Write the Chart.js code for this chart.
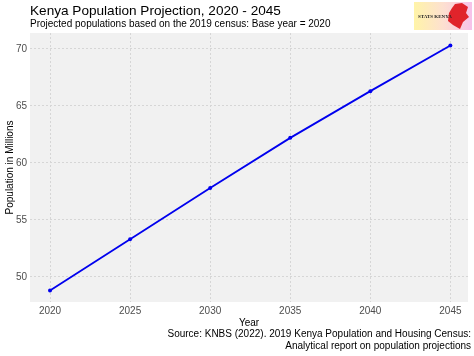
<!DOCTYPE html>
<html>
<head>
<meta charset="utf-8">
<script src="https://cdn.jsdelivr.net/npm/chart.js@4/dist/chart.umd.min.js"></script>
<style>
  html, body { margin: 0; padding: 0; background: #ffffff; }
  #wrap { position: relative; width: 474px; height: 356px; }
</style>
</head>
<body>
<div id="wrap"><canvas id="c" width="474" height="356"></canvas></div>
<script>
const years = [2020, 2025, 2030, 2035, 2040, 2045];
const population = [48.8, 53.3, 57.8, 62.2, 66.3, 70.3];
const xTicks = [2020, 2025, 2030, 2035, 2040, 2045];
const yTicks = [50, 55, 60, 65, 70];

const titleText = 'Kenya Population Projection, 2020 - 2045';
const subtitleText = 'Projected populations based on the 2019 census: Base year = 2020';
const captionLines = ['Source: KNBS (2022). 2019 Kenya Population and Housing Census:',
                      'Analytical report on population projections'];

const FONT = '"Liberation Sans", Arial, sans-serif';

const decor = {
  id: 'decor',
  beforeDraw(chart) {
    const {ctx, chartArea: a} = chart;
    ctx.save();
    ctx.fillStyle = '#f1f1f1';
    ctx.fillRect(a.left, a.top, a.right - a.left, a.bottom - a.top);
    ctx.restore();
  },
  afterDraw(chart) {
    const {ctx} = chart;
    ctx.save();
    ctx.fillStyle = '#000000';
    ctx.textBaseline = 'alphabetic';
    ctx.textAlign = 'left';
    ctx.font = '13.6px ' + FONT;
    ctx.fillText(titleText, 30, 15);
    ctx.font = '10px ' + FONT;
    ctx.fillText(subtitleText, 30, 27);
    ctx.textAlign = 'right';
    ctx.font = '10px ' + FONT;
    ctx.fillText(captionLines[0], 471, 337);
    ctx.fillText(captionLines[1], 471, 349);
    // logo
    const g = ctx.createLinearGradient(414, 0, 472, 0);
    g.addColorStop(0, '#fff4a8');
    g.addColorStop(0.5, '#fde0d0');
    g.addColorStop(1, '#f6c2ea');
    ctx.fillStyle = g;
    ctx.fillRect(414, 2, 58, 28);
    ctx.fillStyle = '#e0242b';
    ctx.beginPath();
    ctx.moveTo(455, 4); ctx.lineTo(462, 3); ctx.lineTo(468, 7); ctx.lineTo(466, 13);
    ctx.lineTo(469, 17); ctx.lineTo(463, 22); ctx.lineTo(460, 29); ctx.lineTo(453, 25);
    ctx.lineTo(448, 21); ctx.lineTo(449, 13); ctx.lineTo(452, 8);
    ctx.closePath(); ctx.fill();
    ctx.fillStyle = '#222222';
    ctx.textAlign = 'left';
    ctx.font = 'bold 5px "Liberation Serif", serif';
    ctx.fillText('STATS KENYA', 418, 18);
    ctx.restore();
  }
};

new Chart(document.getElementById('c'), {
  type: 'line',
  data: {
    datasets: [{
      data: years.map((y, i) => ({x: y, y: population[i]})),
      borderColor: '#0000ee',
      backgroundColor: '#0000ee',
      borderWidth: 1.8,
      pointRadius: 2,
      pointHoverRadius: 2,
      pointBorderWidth: 0,
      tension: 0,
      fill: false
    }]
  },
  options: {
    responsive: false,
    animation: false,
    devicePixelRatio: 1,
    layout: { padding: { left: 0, top: 33, right: 6, bottom: 27 } },
    plugins: { legend: { display: false }, tooltip: { enabled: false }, title: { display: false } },
    scales: {
      x: {
        type: 'linear',
        min: 2018.75,
        max: 2046.1,
        afterBuildTicks: axis => { axis.ticks = xTicks.map(v => ({value: v})); },
        afterFit: axis => { axis.height = 27; },
        ticks: {
          callback: v => String(v),
          font: { family: FONT, size: 10 },
          color: '#4d4d4d',
          padding: 3,
          maxRotation: 0,
          autoSkip: false
        },
        grid: { color: '#d6d6d6', lineWidth: 1, drawTicks: false, tickLength: 0 },
        border: { display: false, dash: [2, 2] },
        title: { display: true, text: 'Year', font: { family: FONT, size: 10 }, color: '#000000', padding: { top: 0, bottom: 0 } }
      },
      y: {
        min: 47.8,
        max: 71.4,
        afterBuildTicks: axis => { axis.ticks = yTicks.map(v => ({value: v})); },
        afterFit: axis => { axis.width = 30; },
        ticks: {
          font: { family: FONT, size: 10 },
          color: '#4d4d4d',
          padding: 3
        },
        grid: { color: '#d6d6d6', lineWidth: 1, drawTicks: false, tickLength: 0 },
        border: { display: false, dash: [2, 2] },
        title: { display: true, text: 'Population in Millions', font: { family: FONT, size: 10 }, color: '#000000', padding: { top: 4, bottom: 0 } }
      }
    }
  },
  plugins: [decor]
});
</script>
</body>
</html>
